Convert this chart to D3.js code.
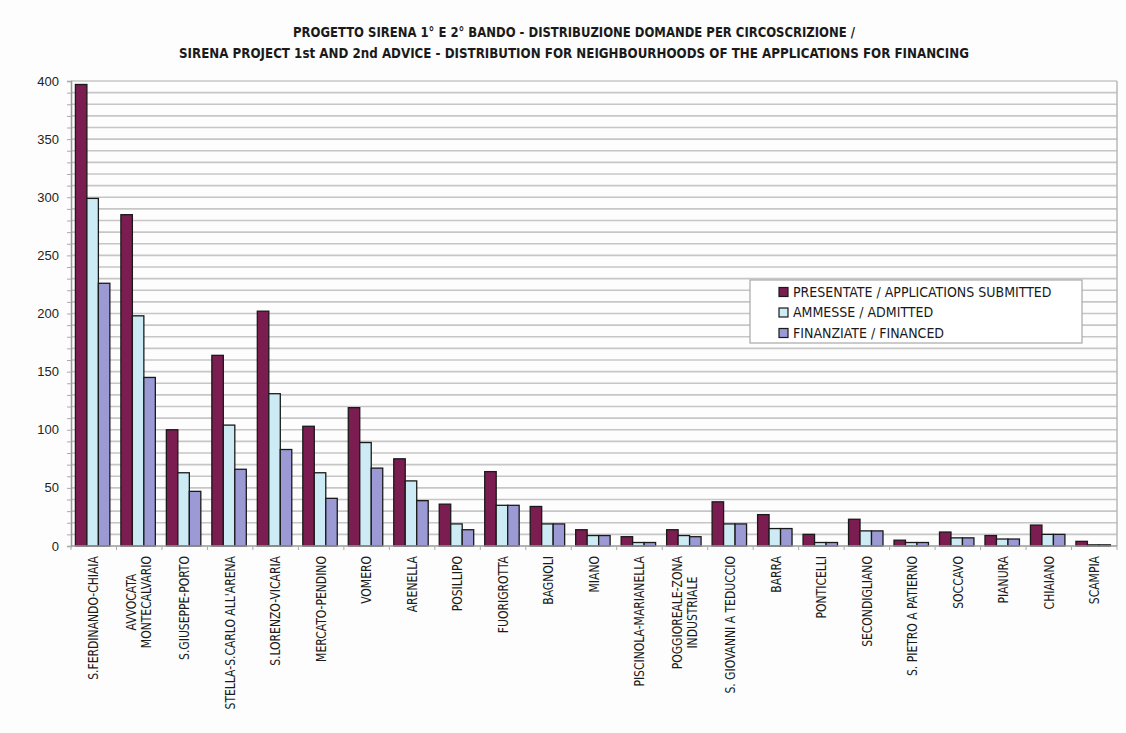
<!DOCTYPE html>
<html>
<head>
<meta charset="utf-8">
<script src="https://cdn.jsdelivr.net/npm/d3@7/dist/d3.min.js"></script>
<style>
  html, body { margin: 0; padding: 0; background: #fdfdfd; }
  svg { display: block; font-family: "DejaVu Sans Condensed", "DejaVu Sans", sans-serif; }
</style>
</head>
<body>
<svg id="chart" width="1126" height="733"></svg>
<script>
// Neighbourhoods (circoscrizioni); "|" splits a label onto two lines
const categories = [
  "S.FERDINANDO-CHIAIA", "AVVOCATA|MONTECALVARIO", "S.GIUSEPPE-PORTO",
  "STELLA-S.CARLO ALL'ARENA", "S.LORENZO-VICARIA", "MERCATO-PENDINO",
  "VOMERO", "ARENELLA", "POSILLIPO", "FUORIGROTTA", "BAGNOLI", "MIANO",
  "PISCINOLA-MARIANELLA", "POGGIOREALE-ZONA|INDUSTRIALE", "S. GIOVANNI A TEDUCCIO",
  "BARRA", "PONTICELLI", "SECONDIGLIANO", "S. PIETRO A PATIERNO", "SOCCAVO",
  "PIANURA", "CHIAIANO", "SCAMPIA"
];

const seriesNames = [
  "PRESENTATE / APPLICATIONS SUBMITTED",
  "AMMESSE / ADMITTED",
  "FINANZIATE / FINANCED"
];

const submitted = [397, 285, 100, 164, 202, 103, 119, 75, 36, 64, 34, 14, 8, 14, 38, 27, 10, 23, 5, 12, 9, 18, 4];
const admitted  = [299, 198, 63, 104, 131, 63, 89, 56, 19, 35, 19, 9, 3, 9, 19, 15, 3, 13, 3, 7, 6, 10, 1];
const financed  = [226, 145, 47, 66, 83, 41, 67, 39, 14, 35, 19, 9, 3, 8, 19, 15, 3, 13, 3, 7, 6, 10, 1];

const yTicks = [0, 50, 100, 150, 200, 250, 300, 350, 400];

const titleLines = [
  "PROGETTO SIRENA 1° E 2° BANDO - DISTRIBUZIONE DOMANDE PER CIRCOSCRIZIONE /",
  "SIRENA PROJECT 1st AND 2nd ADVICE - DISTRIBUTION FOR NEIGHBOURHOODS OF THE APPLICATIONS FOR FINANCING"
];
const titleWidths = [562, 790];

const colors = ["#7b1d50", "#cdebf4", "#9b9ad5"];

const seriesValues = [submitted, admitted, financed];
const rows = categories.map((c, i) => ({ cat: c, values: seriesValues.map(s => s[i]) }));

const svg = d3.select("#chart");
const margin = { left: 71, right: 1117, top: 81, bottom: 546 };

const x0 = d3.scaleBand().domain(categories).range([margin.left, margin.right]).padding(0);
const x1 = d3.scaleBand().domain(d3.range(3)).range([0, x0.bandwidth()])
  .paddingInner(0).paddingOuter(0.48).align(0.4);
const y = d3.scaleLinear().domain([0, 400]).range([margin.bottom, margin.top]);

// Horizontal gridlines every 10 units
svg.append("g")
  .selectAll("line")
  .data(d3.range(10, 401, 10))
  .join("line")
  .attr("x1", margin.left).attr("x2", margin.right)
  .attr("y1", d => y(d)).attr("y2", d => y(d))
  .attr("stroke", "#c6c6c6").attr("stroke-width", 1.6);

// Right border of the plot area
svg.append("line")
  .attr("x1", margin.right).attr("x2", margin.right)
  .attr("y1", margin.top).attr("y2", margin.bottom)
  .attr("stroke", "#b8b8b8").attr("stroke-width", 1.5);

// Bars
const groups = svg.append("g").selectAll("g")
  .data(rows)
  .join("g")
  .attr("transform", d => `translate(${x0(d.cat)},0)`);

groups.selectAll("rect")
  .data(d => d.values.map((v, k) => ({ v, k })))
  .join("rect")
  .attr("x", d => x1(d.k))
  .attr("width", x1.bandwidth())
  .attr("y", d => y(d.v))
  .attr("height", d => y(0) - y(d.v))
  .attr("fill", d => colors[d.k])
  .attr("stroke", "#1a1a1a")
  .attr("stroke-width", 1.3);

// Y axis with minor ticks every 10
const yAxis = svg.append("g").attr("transform", `translate(${margin.left},0)`);
yAxis.call(d3.axisLeft(y).tickValues(d3.range(0, 401, 10)).tickSize(4).tickFormat(""))
  .call(g => g.select(".domain").attr("stroke", "#999").attr("stroke-width", 1.5))
  .call(g => g.selectAll(".tick line").attr("stroke", "#aaa"));
yAxis.selectAll("text.ylab")
  .data(yTicks)
  .join("text")
  .attr("class", "ylab")
  .attr("x", -12)
  .attr("y", d => y(d))
  .attr("dy", "0.35em")
  .attr("text-anchor", "end")
  .attr("font-size", 13)
  .attr("fill", "#222")
  .text(d => d);

// X axis
const xAxis = svg.append("g").attr("transform", `translate(0,${margin.bottom})`);
xAxis.append("line")
  .attr("x1", margin.left).attr("x2", margin.right)
  .attr("stroke", "#999").attr("stroke-width", 1.5);
xAxis.selectAll("line.tick")
  .data(categories.concat([null]))
  .join("line")
  .attr("class", "tick")
  .attr("x1", (d, i) => margin.left + i * x0.step())
  .attr("x2", (d, i) => margin.left + i * x0.step())
  .attr("y1", 0).attr("y2", 4)
  .attr("stroke", "#aaa");

// Category labels, rotated to read upward (narrowed along the text direction)
const labelTop = 556;
const lineGap = 15;
const labelSquash = 0.89;
const labels = svg.append("g").selectAll("text")
  .data(categories)
  .join("text")
  .attr("font-size", 13.5)
  .attr("fill", "#1a1a1a");

labels.each(function(d) {
  const parts = d.split("|");
  const t = d3.select(this);
  const cx = x0(d) + x0.bandwidth() / 2;
  const spans = parts.map(p => t.append("tspan").text(p));
  const widths = spans.map(s => s.node().getComputedTextLength());
  const maxW = d3.max(widths) * labelSquash;
  const n = parts.length;
  t.attr("text-anchor", "middle")
   .attr("transform", `translate(${cx},${labelTop + maxW / 2}) rotate(-90) scale(${labelSquash},1)`);
  spans.forEach((s, i) => {
    s.attr("x", 0).attr("y", (i - (n - 1) / 2) * lineGap).attr("dy", "0.35em");
  });
});

// Title
svg.append("g").selectAll("text")
  .data(titleLines)
  .join("text")
  .attr("x", 574)
  .attr("y", (d, i) => 37 + i * 20.5)
  .attr("text-anchor", "middle")
  .attr("font-weight", "bold")
  .attr("font-size", 14.3)
  .attr("textLength", (d, i) => titleWidths[i])
  .attr("lengthAdjust", "spacingAndGlyphs")
  .attr("fill", "#1a1a1a")
  .text(d => d);

// Legend
const legend = svg.append("g").attr("transform", "translate(750,280)");
legend.append("rect")
  .attr("width", 332).attr("height", 63)
  .attr("fill", "#ffffff").attr("stroke", "#a8a8a8").attr("stroke-width", 1.2);
const items = legend.selectAll("g.item")
  .data(seriesNames)
  .join("g")
  .attr("class", "item")
  .attr("transform", (d, i) => `translate(29,${12 + i * 20.5})`);
items.append("rect")
  .attr("width", 9).attr("height", 9).attr("y", -4.5)
  .attr("fill", (d, i) => colors[i])
  .attr("stroke", "#1a1a1a").attr("stroke-width", 1.2);
items.append("text")
  .attr("x", 14).attr("dy", "0.35em")
  .attr("font-size", 14)
  .attr("fill", "#1a1a1a")
  .text(d => d);
</script>
</body>
</html>
